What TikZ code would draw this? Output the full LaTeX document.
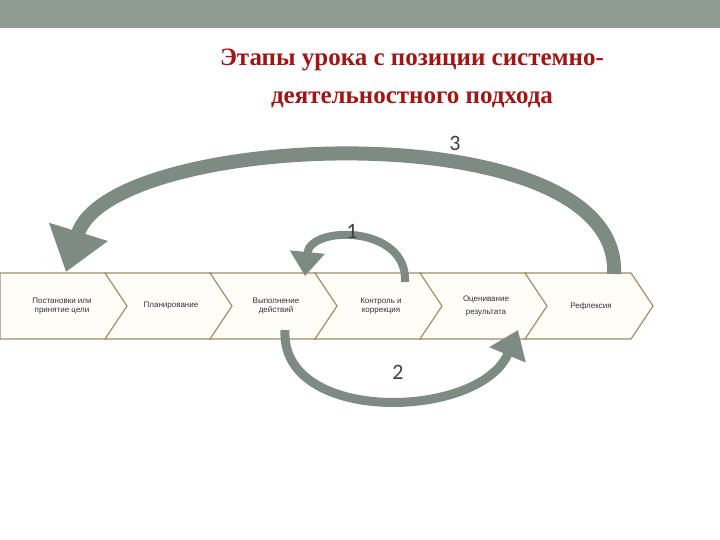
\documentclass[tikz,border=0pt]{standalone}
\usepackage{fontspec}
\setmainfont{Liberation Serif}
\newfontfamily\lab{Liberation Sans}
\newfontfamily\num{Carlito}
\usetikzlibrary{arrows.meta}
\definecolor{bar}{HTML}{8E9B90}
\definecolor{arr}{HTML}{7E8B82}
\definecolor{edge}{HTML}{A08C6A}
\definecolor{cream}{HTML}{FFFDF7}
\definecolor{ttl}{HTML}{A01515}
\tikzset{chev/.style={draw=edge,fill=cream,line width=1.2pt},
 ctext/.style={font=\lab\fontsize{8}{9.5}\selectfont,align=center,text=black!80},
 bigarrow/.style={draw=arr,line width=#1,-{Triangle[length=#1*3,width=#1*4.2]}},
 num/.style={font=\num\fontsize{22}{24}\selectfont,text=black!75}}
\begin{document}
\begin{tikzpicture}[x=1pt,y=-1pt]
\useasboundingbox (0,0) rectangle (720,540);
\fill[bar] (0,0) rectangle (720,28);
\node[font=\bfseries\fontsize{25}{38}\selectfont,text=ttl,align=center] (title) at (412,78) {Этапы урока с позиции системно-\\деятельностного подхода};
\foreach \i/\t in {0/{Постановки или\\принятие цели},1/Планирование,2/{Выполнение\\действий},3/{Контроль и\\коррекция},4/{Оценивание\\[3pt]результата},5/Рефлексия}{
 \pgfmathsetmacro\L{105*\i}
 \pgfmathsetmacro\X{\L+62+(\i>0)*4}
 \ifnum\i=0
  \draw[chev] (0,273) -- (106,273) -- (128,306) -- (106,339) -- (0,339) -- cycle;
 \else
  \draw[chev] (\L,273) -- (\L+106,273) -- (\L+128,306) -- (\L+106,339) -- (\L,339) -- (\L+22,306) -- cycle;
 \fi
 \node[ctext] (c\i) at (\X,306) {\t};
}
\coordinate (a3s) at (614,274);
\coordinate (a3e) at (66,272);
\draw[bigarrow=14pt] (a3s) .. controls (622,110) and (110,130) .. (a3e);
\coordinate (a1s) at (405,282);
\coordinate (a1e) at (305,276);
\draw[bigarrow=8pt] (a1s) .. controls (408,225) and (310,225) .. (a1e);
\coordinate (a2s) at (285,330);
\coordinate (a2e) at (518,330);
\draw[bigarrow=9pt] (a2s) .. controls (280,425) and (480,420) .. (a2e);
\node[num] (n3) at (455,143) {3};
\node[num] (n1) at (352,231) {1};
\node[num] (n2) at (398,372) {2};
\end{tikzpicture}
\end{document}
